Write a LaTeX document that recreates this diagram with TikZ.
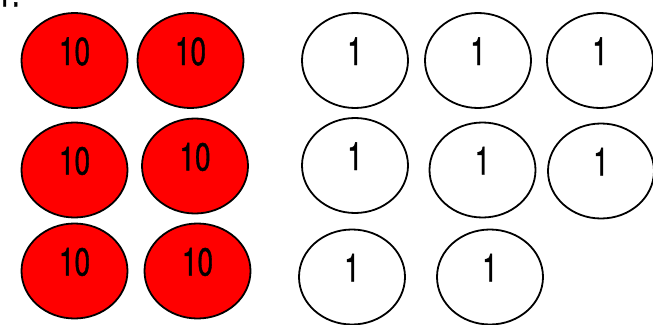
\documentclass[tikz,border=0pt]{standalone}
\usepackage{fontspec}
\usepackage{graphicx}
\setmainfont{TeX Gyre Heros}
\usetikzlibrary{shapes.geometric}
\tikzset{
  disc/.style={ellipse, draw=black, line width=1.8pt, minimum width=106pt, minimum height=95pt, inner sep=0pt},
  tendisc/.style={disc, fill=red},
  onedisc/.style={disc, fill=white},
  numtext/.style={anchor=base, inner sep=0pt, font=\fontsize{39}{40}\selectfont\addfontfeature{FakeBold=1.2}},
}
\newcommand{\narrow}[1]{\scalebox{0.72}[1]{#1}}
\begin{document}
\begin{tikzpicture}[x=1pt,y=-1pt]
\useasboundingbox (0,0) rectangle (653,324);
% question number (top cut off)
\node[anchor=base west, inner sep=0pt, font=\fontsize{39}{40}\selectfont\addfontfeature{FakeBold=1.2}] (qnum) at (-4,6.5) {\narrow{1.}};
% tens discs
\node[tendisc] (t1) at (74.5,60.5) {};
\node[tendisc] (t2) at (190.5,60.5) {};
\node[tendisc] (t3) at (74.5,170) {};
\node[tendisc] (t4) at (195,166) {};
\node[tendisc] (t5) at (74.5,271) {};
\node[tendisc] (t6) at (197.5,271) {};
% ones discs
\node[onedisc] (o1) at (355,60.5) {};
\node[onedisc] (o2) at (478,60.5) {};
\node[onedisc] (o3) at (600,60.5) {};
\node[onedisc] (o4) at (355,165.5) {};
\node[onedisc] (o5) at (482.5,170) {};
\node[onedisc] (o6) at (601,171) {};
\node[onedisc] (o7) at (352,277) {};
\node[onedisc] (o8) at (490,277) {};
% labels
\foreach \n in {t1,t2,t3,t4,t5,t6}
  \node[numtext] at ([yshift=-4.5pt]\n.center) {\narrow{10}};
\foreach \n in {o1,o2,o3,o4,o5,o6,o7,o8}
  \node[numtext] at ([yshift=-4.5pt]\n.center) {\narrow{1}};
\end{tikzpicture}
\end{document}
